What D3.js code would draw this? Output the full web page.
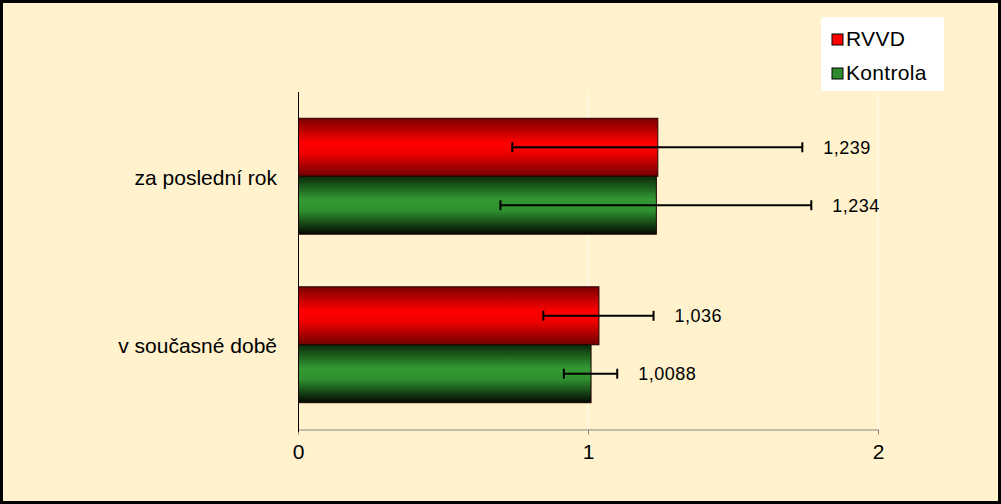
<!DOCTYPE html>
<html><head><meta charset="utf-8">
<script src="https://cdn.jsdelivr.net/npm/d3@7"></script>
<style>body{margin:0;background:#fff;}svg{display:block;font-family:"Liberation Sans",Arial,sans-serif;}</style>
</head><body>
<svg id="c" width="1001" height="504"></svg>
<script>
const categories = ["za poslední rok", "v současné době"];
const seriesNames = ["RVVD", "Kontrola"];
const rvvdValues = [1.239, 1.036];
const kontrolaValues = [1.234, 1.0088];
const rvvdErrors = [0.5, 0.19];
const kontrolaErrors = [0.536, 0.092];
const valueLabels = [["1,239", "1,036"], ["1,234", "1,0088"]];
const xTicks = [0, 1, 2];

const svg = d3.select("#c");
const W = 1001, H = 504;
svg.append("rect").attr("x",1.5).attr("y",1.5).attr("width",W-3).attr("height",H-3)
  .attr("fill","#FFF2CC").attr("stroke","#000").attr("stroke-width",3);

const defs = svg.append("defs");
function grad(id, stops){
  const g = defs.append("linearGradient").attr("id",id).attr("x1",0).attr("y1",0).attr("x2",0).attr("y2",1);
  stops.forEach(s=>g.append("stop").attr("offset",s[0]).attr("stop-color",s[1]));
}
grad("gRed", [[0,"#7a0000"],[0.42,"#ff0000"],[0.6,"#f00000"],[1,"#700000"]]);
grad("gGreen", [[0,"#082a08"],[0.4,"#339933"],[0.6,"#2e8f2e"],[1,"#020802"]]);
const fills = ["url(#gRed)", "url(#gGreen)"];
const legendFills = ["#ff0000", "#2e8b2e"];

const x = d3.scaleLinear().domain([0,2]).range([298,878]);
const y = d3.scaleBand().domain(categories).range([92,429]).paddingInner(0.312).paddingOuter(0.156);
const ySub = d3.scaleBand().domain(seriesNames).range([0, y.bandwidth()]);

// gridlines
svg.append("g").selectAll("line").data(xTicks.slice(1)).join("line")
  .attr("x1",d=>x(d)).attr("x2",d=>x(d)).attr("y1",92).attr("y2",429)
  .attr("stroke","#fffbea").attr("stroke-width",1.2);

// x axis
const xAxis = svg.append("g").attr("transform","translate(0,429.5)")
  .call(d3.axisBottom(x).tickValues(xTicks).tickFormat(d3.format("d")).tickSize(5).tickSizeOuter(0));
xAxis.select(".domain").attr("stroke","#888");
xAxis.selectAll(".tick line").attr("stroke","#888");
xAxis.selectAll(".tick text").attr("font-size",21).attr("fill","#000").attr("dy","1.0em")
  .attr("font-family","Liberation Sans, Arial, sans-serif");

// left axis
svg.append("line").attr("x1",298.5).attr("x2",298.5).attr("y1",92).attr("y2",432).attr("stroke","#000").attr("stroke-width",1);

const series = [
  {name:"RVVD", values:rvvdValues, errs:rvvdErrors, labels:valueLabels[0]},
  {name:"Kontrola", values:kontrolaValues, errs:kontrolaErrors, labels:valueLabels[1]}
];

series.forEach((s, si)=>{
  const g = svg.append("g");
  const data = categories.map((c,i)=>({c, v:s.values[i], e:s.errs[i], l:s.labels[i]}));
  g.selectAll("rect").data(data).join("rect")
    .attr("x", x(0)+0.5).attr("y", d=>y(d.c)+ySub(s.name))
    .attr("width", d=>x(d.v)-x(0)).attr("height", ySub.bandwidth())
    .attr("fill", fills[si]).attr("stroke","#200000").attr("stroke-width",1);
  const cy = d=>y(d.c)+ySub(s.name)+ySub.bandwidth()/2;
  g.selectAll("line.err").data(data).join("line").attr("class","err")
    .attr("x1", d=>x(d.v-d.e)).attr("x2", d=>x(d.v+d.e)).attr("y1",cy).attr("y2",cy)
    .attr("stroke","#000").attr("stroke-width",2);
  ["lo","hi"].forEach(k=>{
    g.selectAll("line.cap"+k).data(data).join("line").attr("class","cap"+k)
      .attr("x1", d=>x(k==="lo"?d.v-d.e:d.v+d.e)).attr("x2", d=>x(k==="lo"?d.v-d.e:d.v+d.e))
      .attr("y1", d=>cy(d)-5).attr("y2", d=>cy(d)+5)
      .attr("stroke","#000").attr("stroke-width",2);
  });
  g.selectAll("text").data(data).join("text")
    .attr("x", d=>x(d.v+d.e)+21).attr("y", d=>cy(d)).attr("dy","0.35em")
    .attr("font-size",18).attr("letter-spacing",0.5).attr("fill","#000").text(d=>d.l);
});

// category labels
svg.append("g").selectAll("text").data(categories).join("text")
  .attr("x",277).attr("y",d=>y(d)+y.bandwidth()/2+1).attr("dy","0.35em")
  .attr("text-anchor","end").attr("font-size",21).attr("fill","#000").text(d=>d);

// legend
const lg = svg.append("g");
lg.append("rect").attr("x",821).attr("y",17).attr("width",123).attr("height",74).attr("fill","#fff");
seriesNames.forEach((n,i)=>{
  const yy = 39 + i*34;
  lg.append("rect").attr("x",832).attr("y",yy-5).attr("width",11).attr("height",11)
    .attr("fill",legendFills[i]).attr("stroke","#000").attr("stroke-width",1);
  lg.append("text").attr("x",846).attr("y",yy).attr("dy","0.35em").attr("font-size",21).attr("letter-spacing",0.3).attr("fill","#000").text(n);
});
</script>
</body></html>
